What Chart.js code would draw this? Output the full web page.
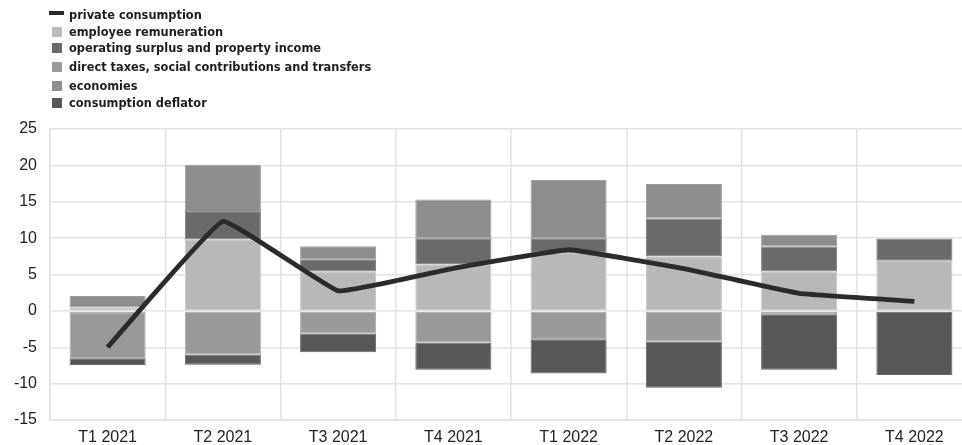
<!DOCTYPE html>
<html>
<head>
<meta charset="utf-8">
<script src="https://cdn.jsdelivr.net/npm/chart.js@4/dist/chart.umd.min.js"></script>
<style>
  html, body { margin: 0; padding: 0; background: #fff; overflow: hidden; }
  #wrap { position: absolute; left: 0; top: 0; width: 972px; height: 445px; }
  #legend { position: absolute; left: 49px; top: 8px; font-family: "DejaVu Sans", sans-serif;
            font-weight: bold; font-size: 11.4px; color: #1e1e1e; }
  .row { position: absolute; left: 0; white-space: nowrap; height: 14px; line-height: 14px; }
  .sw { position: absolute; top: 2px; width: 10px; height: 10px; left: 3px; }
  .sw.line { top: 3px; left: 0; width: 15px; height: 4px; }
  .txt { position: absolute; left: 20px; top: 0; }
</style>
</head>
<body>
<div id="wrap"><canvas id="chart" width="972" height="445"></canvas></div>
<div id="legend"></div>
<script>
// -------------------------------
// DATA
// -------------------------------
const quarters = ["T1 2021", "T2 2021", "T3 2021", "T4 2021", "T1 2022", "T2 2022", "T3 2022", "T4 2022"];

const privateConsumption = [-5.0, 12.3, 2.75, 5.85, 8.4, 5.8, 2.4, 1.3];
const employeeRemuneration = [0.5, 9.8, 5.4, 6.4, 8.0, 7.5, 5.4, 6.9];
const operatingSurplus = [-0.25, 3.8, 1.7, 3.6, 2.0, 5.2, 3.45, 3.05];
const directTaxes = [-6.25, -6.0, -3.1, -4.35, -3.9, -4.2, -0.45, 0];
const economies = [1.55, 6.5, 1.8, 5.3, 8.0, 4.75, 1.6, 0];
const consumptionDeflator = [-0.95, -1.4, -2.6, -3.75, -4.7, -6.35, -7.65, -8.8];

const yTicks = [25, 20, 15, 10, 5, 0, -5, -10, -15];

// legend rows: label, colour, is line, top offset
const legendRows = [
    ["private consumption", "#2b2b2b", true, 0],
    ["employee remuneration", "#bababa", false, 17],
    ["operating surplus and property income", "#6a6a6a", false, 33],
    ["direct taxes, social contributions and transfers", "#9c9c9c", false, 52],
    ["economies", "#8f8f8f", false, 71],
    ["consumption deflator", "#585858", false, 88]
];

// -------------------------------
// LEGEND (html)
// -------------------------------
function buildLegend() {
    const box = document.getElementById("legend");
    legendRows.forEach(r => {
        const row = document.createElement("div");
        row.className = "row";
        row.style.top = r[3] + "px";
        const sw = document.createElement("span");
        sw.className = r[2] ? "sw line" : "sw";
        sw.style.background = r[1];
        const t = document.createElement("span");
        t.className = "txt";
        t.textContent = r[0];
        row.appendChild(sw);
        row.appendChild(t);
        box.appendChild(row);
    });
}
buildLegend();

// -------------------------------
// CHART
// -------------------------------
function barSet(label, data, color, edge) {
    return {
        type: "bar",
        label: label,
        data: data,
        backgroundColor: color,
        borderColor: edge,   // slightly lighter edge, like the faint seams in the picture
        borderWidth: 1,
        borderSkipped: false,
        stack: "bars",
        order: 1,
        barPercentage: 0.66,
        categoryPercentage: 1
    };
}

const ctx = document.getElementById("chart").getContext("2d");

const chart = new Chart(ctx, {
    data: {
        labels: quarters,
        datasets: [
            {
                type: "line",
                label: legendRows[0][0],
                data: privateConsumption,
                borderColor: "#2b2b2b",
                borderWidth: 4.8,
                pointRadius: 0,
                tension: 0.08,
                stack: "line",
                order: 0
            },
            barSet(legendRows[1][0], employeeRemuneration, "#b8b8b8", "#c6c6c6"),
            barSet(legendRows[2][0], operatingSurplus, "#6a6a6a", "#7a7a7a"),
            barSet(legendRows[3][0], directTaxes, "#999999", "#a8a8a8"),
            barSet(legendRows[4][0], economies, "#8d8d8d", "#9c9c9c"),
            barSet(legendRows[5][0], consumptionDeflator, "#575757", "#666666")
        ]
    },
    options: {
        responsive: false,
        animation: false,
        layout: { padding: { top: 129, left: 0, right: 0, bottom: 0 } },
        plugins: { legend: { display: false }, tooltip: { enabled: false } },
        scales: {
            x: {
                stacked: true,
                offset: true,
                afterFit: s => { s.height = 25; },
                grid: { color: "#e2e2e2", lineWidth: 1.5, drawTicks: false, offset: true },
                border: { color: "#e2e2e2", width: 1.5 },
                ticks: { color: "#222", padding: 8, font: { family: "Liberation Sans", size: 16 } }
            },
            y: {
                stacked: true,
                min: -15,
                max: 25,
                afterFit: s => { s.width = 50; },
                afterBuildTicks: s => { s.ticks = yTicks.map(v => ({ value: v })); },
                grid: { color: "#e2e2e2", lineWidth: 1.5, drawTicks: false },
                border: { color: "#e2e2e2", width: 1.5 },
                ticks: { color: "#222", padding: 13, font: { family: "Liberation Sans", size: 16 } }
            }
        }
    }
});
</script>
</body>
</html>
